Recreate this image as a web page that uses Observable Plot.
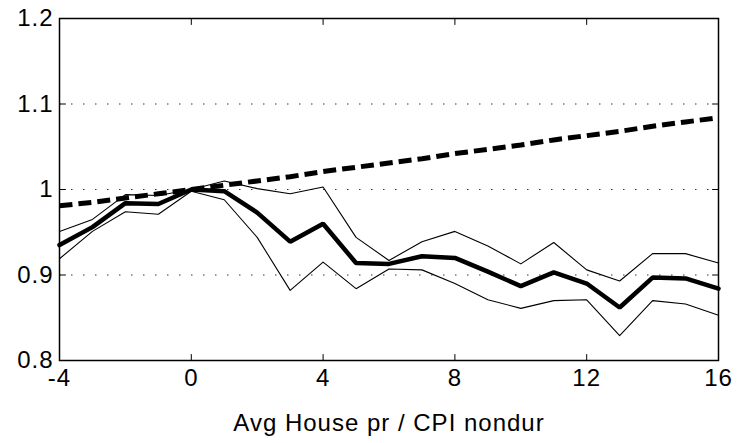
<!DOCTYPE html>
<html>
<head>
<meta charset="utf-8">
<script src="https://cdn.jsdelivr.net/npm/d3@7"></script>
<script src="https://cdn.jsdelivr.net/npm/@observablehq/plot@0.6"></script>
<style>
  html, body { margin: 0; padding: 0; background: #fff; }
  #chart svg text { letter-spacing: 1px; }
</style>
</head>
<body>
<div id="chart"></div>
<script>
const horizon = [-4, -3, -2, -1, 0, 1, 2, 3, 4, 5, 6, 7, 8, 9, 10, 11, 12, 13, 14, 15, 16];
const central = [0.935, 0.956, 0.984, 0.983, 1.000, 0.998, 0.973, 0.939, 0.960, 0.914, 0.913, 0.922, 0.920, 0.904, 0.887, 0.903, 0.890, 0.862, 0.897, 0.896, 0.884];
const upper   = [0.951, 0.965, 0.994, 0.993, 1.000, 1.010, 1.001, 0.995, 1.003, 0.944, 0.917, 0.939, 0.951, 0.934, 0.913, 0.938, 0.906, 0.893, 0.925, 0.925, 0.914];
const lower   = [0.919, 0.951, 0.974, 0.971, 0.998, 0.988, 0.944, 0.882, 0.915, 0.884, 0.907, 0.906, 0.890, 0.871, 0.861, 0.870, 0.871, 0.829, 0.870, 0.866, 0.853];
const trend   = [0.981, 0.985, 0.990, 0.995, 1.000, 1.005, 1.010, 1.015, 1.021, 1.026, 1.031, 1.036, 1.042, 1.047, 1.052, 1.058, 1.063, 1.068, 1.074, 1.079, 1.084];
const xTicks = [-4, 0, 4, 8, 12, 16];
const xInnerTicks = [0, 4, 8, 12];
const yTicks = [0.8, 0.9, 1, 1.1, 1.2];
const yInnerTicks = [0.9, 1, 1.1];
const xLabel = "Avg House pr / CPI nondur";

const rows = (vals) => horizon.map((h, i) => ({h, v: vals[i]}));
const tickShape = {draw(context, l) { context.moveTo(0, 0); context.lineTo(0, -l); }};
const innerTick = (data, ch, frameAnchor, rotate) =>
  Plot.vector(data, {[ch]: d => d, frameAnchor, rotate, length: 6, anchor: "start", shape: tickShape, stroke: "#000", strokeWidth: 1});

const chart = Plot.plot({
  width: 738,
  height: 443,
  marginLeft: 59,
  marginRight: 20,
  marginTop: 18,
  marginBottom: 83,
  style: {fontFamily: "'Liberation Sans', Arial, Helvetica, sans-serif", fontSize: "24px", color: "#000", background: "#fff"},
  x: {domain: [-4, 16]},
  y: {domain: [0.8, 1.2]},
  marks: [
    Plot.gridY(yInnerTicks, {stroke: "#000", strokeOpacity: 0.8, strokeWidth: 1, strokeDasharray: "1.5,10.5"}),
    Plot.line(rows(upper), {x: "h", y: "v", stroke: "#000", strokeWidth: 1.1}),
    Plot.line(rows(lower), {x: "h", y: "v", stroke: "#000", strokeWidth: 1.1}),
    Plot.line(rows(central), {x: "h", y: "v", stroke: "#000", strokeWidth: 4.5, strokeLinejoin: "miter"}),
    Plot.line(rows(trend), {x: "h", y: "v", stroke: "#000", strokeWidth: 5, strokeDasharray: "13,6", strokeLinecap: "butt"}),
    Plot.axisX(xTicks, {tickSize: 0, tickPadding: 8, tickFormat: d => String(d), fontSize: 24, label: null}),
    Plot.axisY(yTicks, {tickSize: 0, tickPadding: 6, tickFormat: d => String(d), fontSize: 24, label: null}),
    innerTick(xInnerTicks, "x", "bottom", 0),
    innerTick(xInnerTicks, "x", "top", 180),
    innerTick(yInnerTicks, "y", "left", 90),
    innerTick(yInnerTicks, "y", "right", 270),
    Plot.text([xLabel], {frameAnchor: "bottom", dy: 70, fontSize: 24, fill: "#000"}),
    Plot.frame({stroke: "#000", strokeWidth: 1.5})
  ]
});
document.getElementById("chart").appendChild(chart);
</script>
</body>
</html>
